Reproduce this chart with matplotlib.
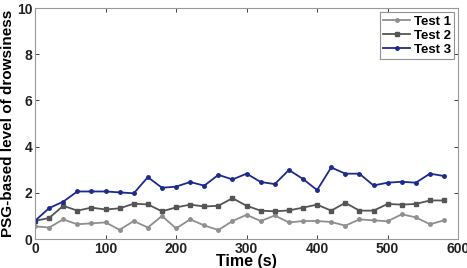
import matplotlib.pyplot as plt
import numpy as np

plt.rcParams["font.family"] = ["Liberation Sans", "DejaVu Sans"]
plt.rcParams["font.weight"] = "bold"

# Время (с) и уровни сонливости по тестам
time_s = np.arange(0, 600, 20)
test1 = [0.55, 0.50, 0.85, 0.64, 0.68, 0.72, 0.40, 0.78, 0.50, 1.00,
         0.46, 0.85, 0.59, 0.39, 0.78, 1.05, 0.78, 1.02, 0.72, 0.78,
         0.78, 0.74, 0.58, 0.85, 0.81, 0.77, 1.07, 0.94, 0.64, 0.81]
test2 = [0.79, 0.91, 1.44, 1.23, 1.36, 1.28, 1.33, 1.53, 1.50, 1.20,
         1.37, 1.49, 1.41, 1.44, 1.77, 1.44, 1.23, 1.20, 1.24, 1.36,
         1.49, 1.23, 1.57, 1.23, 1.23, 1.52, 1.49, 1.52, 1.67, 1.67]
test3 = [0.79, 1.34, 1.62, 2.06, 2.06, 2.06, 2.02, 1.98, 2.68, 2.22,
         2.27, 2.47, 2.31, 2.78, 2.58, 2.83, 2.47, 2.38, 2.99, 2.60,
         2.12, 3.10, 2.83, 2.83, 2.32, 2.44, 2.48, 2.44, 2.83, 2.73]
labels = ["Test 1", "Test 2", "Test 3"]

fig = plt.figure(figsize=(4.67, 2.68), dpi=100)
ax = fig.add_axes([0.075, 0.108, 0.906, 0.862])

ax.plot(time_s, test1, color="#8f8f8f", lw=1.3, marker="o", ms=2.5, label=labels[0])
ax.plot(time_s, test2, color="#555555", lw=1.3, marker="s", ms=3, label=labels[1])
ax.plot(time_s, test3, color="#1c2a8c", lw=1.3, marker="o", ms=2.5, label=labels[2])

ax.set_xlim(0, 600)
ax.set_ylim(0, 10)
ax.set_xticks(range(0, 601, 100))
ax.set_yticks(range(0, 11, 2))
ax.tick_params(direction="in", top=True, right=True, labelsize=10,
               length=3, width=0.6, colors="#222222", pad=2)
for s in ax.spines.values():
    s.set_color("#999999")
    s.set_linewidth(0.8)

ax.set_xlabel("Time (s)", fontsize=11.5, fontweight="bold", labelpad=-1)
ax.set_ylabel("PSG-based level of drowsiness", fontsize=11, fontweight="bold", labelpad=1)

leg = ax.legend(loc="upper right", fontsize=9.5, frameon=True, fancybox=False,
                handlelength=2.0, handletextpad=0.3, borderpad=0.25,
                labelspacing=0.15, borderaxespad=0.3)
leg.get_frame().set_edgecolor("#777777")
leg.get_frame().set_linewidth(0.8)

fig.savefig("out.png", dpi=100)
